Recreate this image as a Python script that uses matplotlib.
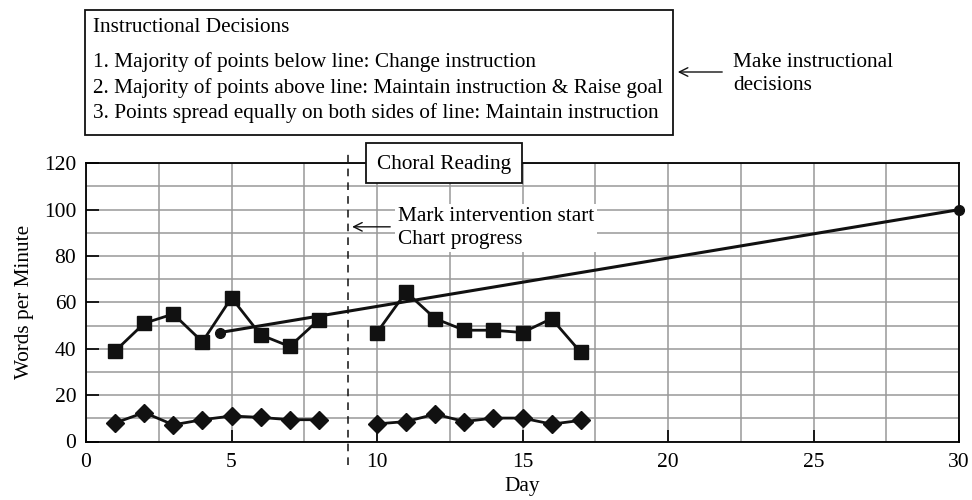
import matplotlib
matplotlib.use('Agg')
import matplotlib.pyplot as plt
from matplotlib.patches import Rectangle

plt.rcParams['font.family'] = ['Liberation Serif', 'DejaVu Serif']
plt.rcParams['font.size'] = 15.3

# Data
days_a = [1, 2, 3, 4, 5, 6, 7, 8]
wpm_a = [39, 51, 55, 43, 62, 46, 41, 52.5]
errors_a = [8, 12.5, 7.2, 9.4, 11, 10.4, 9.4, 9.4]

days_b = [10, 11, 12, 13, 14, 15, 16, 17]
wpm_b = [47, 64.5, 53, 48, 48, 47, 53, 38.5]
errors_b = [7.6, 8.6, 11.8, 8.6, 10.1, 10.1, 7.5, 9.1]

goal_days = [4.6, 30]
goal_wpm = [47, 100]

intervention_day = 9

decision_lines = [
    'Instructional Decisions',
    '1. Majority of points below line: Change instruction',
    '2. Majority of points above line: Maintain instruction & Raise goal',
    '3. Points spread equally on both sides of line: Maintain instruction',
]

W, H = 972, 500
fig = plt.figure(figsize=(W / 100, H / 100), dpi=100)
ax = fig.add_axes([86 / W, 1 - 441.5 / H, (959 - 86) / W, (441.5 - 163.3) / H])

# grid
ax.set_xlim(0, 30)
ax.set_ylim(0, 120)
ax.set_xticks(range(0, 31, 5))
ax.set_yticks(range(0, 121, 20))
ax.set_xticks([x * 2.5 for x in range(13)], minor=True)
ax.set_yticks(range(0, 121, 10), minor=True)
ax.grid(which='both', color='#999999', linewidth=1.1)
ax.set_axisbelow(True)
ax.tick_params(which='minor', length=0)
ax.tick_params(which='major', direction='in', length=9, width=1.2, labelsize=15.5)
ax.tick_params(axis='x', pad=8)
ax.tick_params(axis='y', pad=7)
for s in ax.spines.values():
    s.set_linewidth(1.3)

# goal line
ax.plot(goal_days, goal_wpm, color='#111111', linewidth=2.2, marker='o', markersize=7,
        zorder=4, clip_on=False)

# words per minute
for d, v in [(days_a, wpm_a), (days_b, wpm_b)]:
    ax.plot(d, v, color='#111111', linewidth=2, marker='s', markersize=10, zorder=5)
# errors
for d, v in [(days_a, errors_a), (days_b, errors_b)]:
    ax.plot(d, v, color='#111111', linewidth=2, marker='D', markersize=9, zorder=5)

# intervention line
ax.plot([intervention_day, intervention_day], [-10, 125], color='#111111', linewidth=1.1,
        linestyle=(0, (5, 4)), clip_on=False, zorder=3)

ax.annotate('', xy=(intervention_day + 0.05, 92.6), xytext=(10.55, 92.6),
            arrowprops=dict(arrowstyle='->', color='#111111', lw=1))
ax.text(10.72, 92, 'Mark intervention start\nChart progress', ha='left', va='center',
        linespacing=1.3, zorder=6,
        bbox=dict(facecolor='white', edgecolor='none', pad=2))

ax.set_xlabel('Day', labelpad=4)
ax.set_ylabel('Words per Minute', labelpad=7)

# Choral Reading box
fig.patches.append(Rectangle((366 / W, 1 - 183.3 / H), (522 - 366) / W, (183.3 - 143) / H,
                             transform=fig.transFigure, facecolor='white',
                             edgecolor='#111111', linewidth=1.3, zorder=10))
fig.text(444 / W, 1 - 164 / H, 'Choral Reading', ha='center', va='center', zorder=11)

# Instructional decisions box
fig.patches.append(Rectangle((85 / W, 1 - 135 / H), (673 - 85) / W, (135 - 10) / H,
                             transform=fig.transFigure, facecolor='white',
                             edgecolor='#111111', linewidth=1.3, zorder=10))
for text, y in zip(decision_lines, [27, 62, 88, 113]):
    fig.text(93 / W, 1 - y / H, text, ha='left', va='center', zorder=11)

ax.annotate('', xy=(675 / W, 1 - 72 / H), xytext=(725 / W, 1 - 72 / H),
            xycoords='figure fraction', textcoords='figure fraction',
            arrowprops=dict(arrowstyle='->', color='#111111', lw=1))
fig.text(733 / W, 1 - 74 / H, 'Make instructional\ndecisions', ha='left', va='center',
         linespacing=1.3)

fig.savefig('out.png', dpi=100)
